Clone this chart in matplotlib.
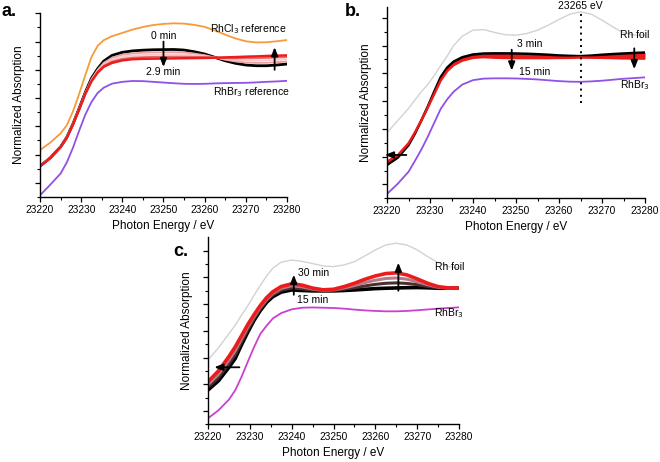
import matplotlib
matplotlib.use("Agg")
import matplotlib.pyplot as plt
from matplotlib.ticker import FixedLocator, MultipleLocator

plt.rcParams['font.family'] = ['Liberation Sans', 'DejaVu Sans']

# ---------------- data ----------------
energy = [23220, 23222.5, 23225, 23226.5, 23228, 23229.5, 23231, 23232.5, 23234,
          23235.5, 23237.5, 23240, 23242.5, 23245, 23247.5, 23250, 23252.5,
          23255, 23257.5, 23260, 23262.5, 23265, 23267.5, 23270, 23272.5,
          23275, 23277.5, 23280]

# panel a
a_rhcl3 = [3.32, 3.85, 4.50, 5.07, 6.05, 7.28, 8.62, 9.90, 10.70, 11.10, 11.38,
           11.61, 11.85, 12.03, 12.17, 12.25, 12.29, 12.27, 12.18, 12.04, 11.78,
           11.49, 11.22, 11.02, 10.94, 10.95, 11.02, 11.11]
a_0min = [2.18, 2.77, 3.55, 4.22, 5.17, 6.26, 7.40, 8.40, 9.08, 9.62, 10.02,
          10.24, 10.34, 10.39, 10.42, 10.43, 10.44, 10.40, 10.28, 10.12, 9.88,
          9.64, 9.46, 9.34, 9.29, 9.29, 9.34, 9.41]
a_mid1 = [2.18, 2.77, 3.54, 4.20, 5.15, 6.22, 7.34, 8.33, 9.00, 9.50, 9.86,
          10.07, 10.16, 10.21, 10.23, 10.24, 10.25, 10.23, 10.15, 10.04, 9.87,
          9.71, 9.59, 9.52, 9.49, 9.50, 9.54, 9.59]
a_mid2 = [2.18, 2.77, 3.54, 4.20, 5.15, 6.22, 7.34, 8.28, 8.93, 9.40, 9.73,
          9.93, 10.02, 10.05, 10.07, 10.08, 10.09, 10.08, 10.03, 9.97, 9.87,
          9.77, 9.70, 9.66, 9.65, 9.67, 9.70, 9.75]
a_mid3 = [2.18, 2.77, 3.54, 4.20, 5.15, 6.22, 7.34, 8.22, 8.86, 9.30, 9.60,
          9.78, 9.87, 9.90, 9.92, 9.93, 9.94, 9.94, 9.92, 9.90, 9.86,
          9.83, 9.81, 9.81, 9.82, 9.84, 9.87, 9.90]
a_29min = [2.18, 2.76, 3.53, 4.18, 5.12, 6.18, 7.28, 8.18, 8.80, 9.22, 9.49,
           9.67, 9.75, 9.78, 9.79, 9.80, 9.81, 9.82, 9.83, 9.84, 9.86,
           9.88, 9.90, 9.93, 9.95, 9.98, 10.00, 10.02]
a_rhbr3 = [0.12, 0.87, 1.66, 2.44, 3.48, 4.68, 5.82, 6.72, 7.36, 7.74, 8.02,
           8.15, 8.21, 8.20, 8.15, 8.10, 8.05, 8.01, 8.00, 8.01, 8.04,
           8.06, 8.07, 8.08, 8.11, 8.15, 8.18, 8.22]

# panel b
b_foil = [4.72, 5.60, 6.47, 7.08, 7.68, 8.20, 8.85, 9.57, 10.25, 11.00, 11.68,
          12.11, 12.15, 11.95, 11.78, 11.75, 11.87, 12.11, 12.47, 12.88, 13.26,
          13.43, 13.26, 12.83, 12.35, 11.92, 11.75, 11.75]
b_3min = [2.40, 2.93, 3.83, 4.66, 5.62, 6.62, 7.70, 8.74, 9.42, 9.85, 10.16,
          10.36, 10.43, 10.44, 10.44, 10.43, 10.41, 10.38, 10.34, 10.29, 10.26,
          10.24, 10.28, 10.34, 10.39, 10.43, 10.47, 10.50]
b_15min = [2.63, 3.10, 3.96, 4.75, 5.62, 6.55, 7.53, 8.50, 9.17, 9.60, 9.92,
           10.12, 10.17, 10.13, 10.11, 10.10, 10.10, 10.10, 10.10, 10.11, 10.12,
           10.14, 10.13, 10.12, 10.10, 10.08, 10.07, 10.06]
b_rhbr3 = [0.31, 1.05, 1.91, 2.70, 3.52, 4.45, 5.45, 6.45, 7.13, 7.68, 8.19,
           8.51, 8.62, 8.64, 8.64, 8.63, 8.60, 8.56, 8.50, 8.44, 8.40,
           8.39, 8.42, 8.47, 8.54, 8.61, 8.66, 8.71]

# panel c
c_foil = [4.82, 5.73, 6.78, 7.42, 8.17, 8.87, 9.66, 10.41, 11.10, 11.70, 12.14,
          12.30, 12.20, 12.04, 11.86, 11.81, 11.93, 12.18, 12.61, 13.06, 13.43,
          13.56, 13.43, 13.06, 12.56, 12.11, 11.81, 11.69]
c_15min = [2.57, 3.26, 4.27, 4.93, 5.95, 6.90, 7.78, 8.52, 9.13, 9.56, 9.90,
           10.06, 10.02, 9.99, 9.99, 9.99, 10.02, 10.06, 10.11, 10.16, 10.19,
           10.21, 10.23, 10.24, 10.22, 10.19, 10.19, 10.19]
c_mid1 = [2.78, 3.51, 4.54, 5.22, 6.18, 7.09, 7.92, 8.65, 9.25, 9.68, 10.04,
          10.21, 10.15, 10.06, 10.02, 10.03, 10.12, 10.23, 10.36, 10.48, 10.56,
          10.59, 10.55, 10.46, 10.33, 10.23, 10.20, 10.20]
c_mid2 = [2.98, 3.75, 4.81, 5.51, 6.40, 7.28, 8.07, 8.77, 9.36, 9.81, 10.18,
          10.37, 10.29, 10.13, 10.04, 10.07, 10.21, 10.39, 10.61, 10.79, 10.92,
          10.96, 10.87, 10.67, 10.45, 10.27, 10.20, 10.20]
c_30min = [3.19, 4.00, 5.08, 5.80, 6.63, 7.47, 8.21, 8.90, 9.48, 9.93, 10.32,
           10.52, 10.42, 10.20, 10.07, 10.11, 10.31, 10.56, 10.86, 11.11, 11.29,
           11.34, 11.19, 10.89, 10.56, 10.31, 10.21, 10.21]
c_rhbr3 = [0.45, 1.05, 1.85, 2.55, 3.55, 4.68, 5.78, 6.77, 7.38, 7.93, 8.33,
           8.61, 8.73, 8.75, 8.73, 8.71, 8.66, 8.59, 8.53, 8.49, 8.46,
           8.46, 8.49, 8.54, 8.60, 8.66, 8.71, 8.76]

xticks = [23220, 23230, 23240, 23250, 23260, 23270, 23280]

# ---------------- figure ----------------
fig = plt.figure(figsize=(6.6, 4.62), dpi=100)
ax_a = fig.add_axes([0.0606, 0.5736, 0.3742, 0.3976])
ax_b = fig.add_axes([0.5864, 0.5708, 0.3909, 0.4147])
ax_c = fig.add_axes([0.3152, 0.0816, 0.3803, 0.4061])

ORANGE = '#f79a3a'
PURPLE = '#9150e6'
MAGENTA = '#cc3fd0'
RED = '#ec1c1c'
GRAY = '#d2d2d2'


def style(ax, ytop):
    ax.set_xlim(23220, 23280)
    ax.set_ylim(0, ytop)
    for s in ['top', 'right']:
        ax.spines[s].set_visible(False)
    for s in ['left', 'bottom']:
        ax.spines[s].set_linewidth(1.0)
    ax.set_xticks(xticks)
    ax.xaxis.set_minor_locator(MultipleLocator(5))
    ax.yaxis.set_major_locator(FixedLocator([1, 3, 5, 7, 9, 11, 13]))
    ax.yaxis.set_minor_locator(FixedLocator([0, 2, 4, 6, 8, 10, 12]))
    ax.set_yticklabels([])
    ax.tick_params(axis='both', which='major', direction='out', length=3.5,
                   width=0.9, labelsize=7.3, pad=2)
    ax.tick_params(axis='both', which='minor', direction='out', length=2,
                   width=0.8)
    ax.set_xlabel('Photon Energy / eV', fontsize=8.5, labelpad=4)
    ax.set_ylabel('Normalized Absorption', fontsize=8.5, labelpad=5)


def arrow(ax, x0, y0, x1, y1):
    ax.annotate('', xy=(x1, y1), xytext=(x0, y0),
                arrowprops=dict(arrowstyle='-|>,head_length=0.5,head_width=0.2',
                                color='black', lw=1.3, shrinkA=0, shrinkB=0),
                annotation_clip=False)


# panel a
style(ax_a, 13)
ax_a.plot(energy, a_rhcl3, color=ORANGE, lw=1.3)
ax_a.plot(energy, a_rhbr3, color=PURPLE, lw=1.3)
ax_a.plot(energy, a_0min, color='black', lw=2.0)
ax_a.plot(energy, a_mid1, color='#e9a0a0', lw=1.3)
ax_a.plot(energy, a_mid2, color='#f6caca', lw=1.3)
ax_a.plot(energy, a_mid3, color='#e66a6a', lw=1.3)
ax_a.plot(energy, a_29min, color=RED, lw=1.8)
arrow(ax_a, 23250, 11.0, 23250, 9.2)
arrow(ax_a, 23277, 9.0, 23277, 10.6)
ax_a.text(23250, 11.4, '0 min', fontsize=7.5, ha='center', va='center')
ax_a.text(23250, 8.85, '2.9 min', fontsize=7.5, ha='center', va='center')
ax_a.text(23261.3, 11.85, 'RhCl$_3$ reference', fontsize=7.5, ha='left', va='center')
ax_a.text(23262.0, 7.4, 'RhBr$_3$ reference', fontsize=7.5, ha='left', va='center')

# panel b
style(ax_b, 13.8)
ax_b.plot(energy, b_foil, color=GRAY, lw=1.0)
ax_b.plot(energy, b_rhbr3, color=PURPLE, lw=1.3)
ax_b.fill_between(energy, b_15min, b_3min, color=RED, lw=0)
ax_b.plot(energy, b_3min, color='black', lw=1.8)
ax_b.plot(energy, b_15min, color=RED, lw=1.8)
ax_b.plot([23265, 23265], [6.85, 13.4], color='black', lw=1.4, ls=(0, (1, 2.2)))
ax_b.text(23265, 13.85, '23265 eV', fontsize=7.5, ha='center', va='center')
arrow(ax_b, 23249, 10.7, 23249, 9.2)
arrow(ax_b, 23277.5, 10.8, 23277.5, 9.3)
arrow(ax_b, 23224.5, 3.12, 23219.5, 3.12)
ax_b.text(23250.3, 11.1, '3 min', fontsize=7.5, ha='left', va='center')
ax_b.text(23250.8, 9.1, '15 min', fontsize=7.5, ha='left', va='center')
ax_b.text(23274.2, 11.75, 'Rh foil', fontsize=7.5, ha='left', va='center')
ax_b.text(23274.2, 8.15, 'RhBr$_3$', fontsize=7.5, ha='left', va='center')

# panel c
style(ax_c, 14.05)
ax_c.plot(energy, c_foil, color=GRAY, lw=1.0)
ax_c.plot(energy, c_rhbr3, color=MAGENTA, lw=1.3)
ax_c.plot(energy, c_15min, color='black', lw=2.6)
ax_c.plot(energy, c_mid1, color='#4a3030', lw=2.2)
ax_c.plot(energy, c_mid2, color='#b87a86', lw=2.2)
ax_c.plot(energy, c_30min, color=RED, lw=2.6)
arrow(ax_c, 23240.5, 9.7, 23240.5, 11.2)
arrow(ax_c, 23265.5, 10.0, 23265.5, 12.1)
arrow(ax_c, 23227.5, 4.27, 23221.5, 4.27)
ax_c.text(23241.5, 11.36, '30 min', fontsize=7.5, ha='left', va='center')
ax_c.text(23241.3, 9.3, '15 min', fontsize=7.5, ha='left', va='center')
ax_c.text(23274.2, 11.8, 'Rh foil', fontsize=7.5, ha='left', va='center')
ax_c.text(23274.0, 8.3, 'RhBr$_3$', fontsize=7.5, ha='left', va='center')

# panel letters
fig.text(0.003, 0.975, 'a.', fontsize=13, fontweight='bold', ha='left', va='center')
fig.text(0.523, 0.975, 'b.', fontsize=13, fontweight='bold', ha='left', va='center')
fig.text(0.262, 0.455, 'c.', fontsize=13, fontweight='bold', ha='left', va='center')

fig.savefig('out.png', dpi=100)
